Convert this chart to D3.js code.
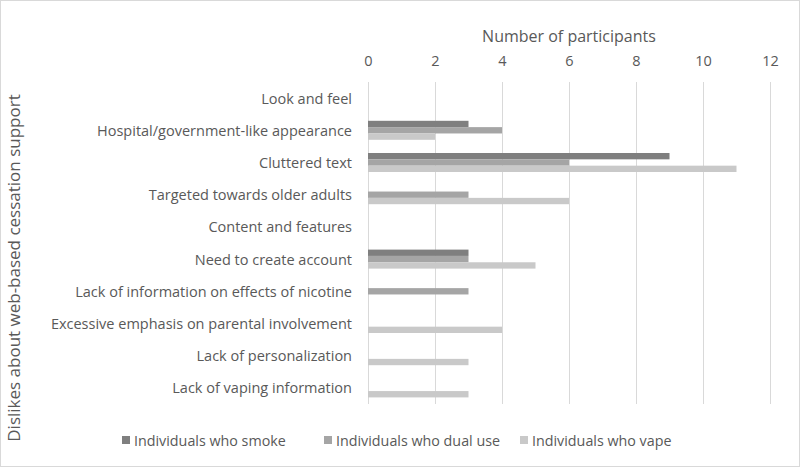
<!DOCTYPE html>
<html>
<head>
<meta charset="utf-8">
<script src="https://cdn.jsdelivr.net/npm/d3@7"></script>
<style>
  html, body { margin: 0; padding: 0; background: #fff; }
  #chart { width: 800px; height: 467px; }
  text { font-family: "Open Sans", "Noto Sans", sans-serif; fill: #595959; }
</style>
</head>
<body>
<div id="chart"></div>
<script>
const CATEGORIES = [
  'Look and feel',
  'Hospital/government-like appearance',
  'Cluttered text',
  'Targeted towards older adults',
  'Content and features',
  'Need to create account',
  'Lack of information on effects of nicotine',
  'Excessive emphasis on parental involvement',
  'Lack of personalization',
  'Lack of vaping information',
];
const SERIES = ['Individuals who smoke', 'Individuals who dual use', 'Individuals who vape'];
const SMOKE = [0, 3, 9, 0, 0, 3, 0, 0, 0, 0];
const DUAL = [0, 4, 6, 3, 0, 3, 3, 0, 0, 0];
const VAPE = [0, 2, 11, 6, 0, 5, 0, 4, 3, 3];
const X_TICKS = [0, 2, 4, 6, 8, 10, 12];
const SERIES_COLORS = ['#7f7f7f', '#a5a5a5', '#c9c9c9'];

const WIDTH = 800;
const HEIGHT = 467;
const PLOT = { left: 368, right: 770, top: 82, bottom: 404 };

const values = [SMOKE, DUAL, VAPE];
const rows = CATEGORIES.map((c, i) => ({
  category: c,
  bars: SERIES.map((s, j) => ({ series: s, idx: j, value: values[j][i] })),
}));

const svg = d3.select('#chart')
  .append('svg')
  .attr('width', WIDTH)
  .attr('height', HEIGHT)
  .attr('style', 'display:block;');

// chart border
svg.append('rect')
  .attr('x', 0.5).attr('y', 0.5)
  .attr('width', WIDTH - 1).attr('height', HEIGHT - 1)
  .attr('fill', '#fff')
  .attr('stroke', '#d9d9d9');

const x = d3.scaleLinear().domain([0, 12]).range([PLOT.left, PLOT.right]);
const y = d3.scaleBand()
  .domain(CATEGORIES)
  .range([PLOT.top, PLOT.bottom])
  .paddingInner(0.41)
  .paddingOuter(0.205);
const ySub = d3.scaleBand().domain(SERIES).range([0, y.bandwidth()]);

// grid lines
svg.append('g')
  .selectAll('line')
  .data(X_TICKS)
  .join('line')
  .attr('x1', (d) => Math.round(x(d)) + 0.5)
  .attr('x2', (d) => Math.round(x(d)) + 0.5)
  .attr('y1', PLOT.top)
  .attr('y2', PLOT.bottom)
  .attr('stroke', '#d9d9d9')
  .attr('stroke-width', 1);

// top axis labels
const xAxis = d3.axisTop(x).tickValues(X_TICKS).tickSize(0).tickPadding(0);
const xAxisG = svg.append('g')
  .attr('transform', 'translate(0,66)')
  .call(xAxis);
xAxisG.select('.domain').remove();
xAxisG.selectAll('text')
  .attr('font-size', '14.5px')
  .attr('fill', '#595959')
  .attr('font-family', '"Open Sans", sans-serif');

svg.append('text')
  .attr('x', (PLOT.left + PLOT.right) / 2)
  .attr('y', 36)
  .attr('text-anchor', 'middle')
  .attr('dominant-baseline', 'central')
  .attr('font-size', '16px')
  .text('Number of participants');

// category labels
svg.append('g')
  .selectAll('text')
  .data(CATEGORIES)
  .join('text')
  .attr('x', PLOT.left - 16)
  .attr('y', (d) => y(d) + y.bandwidth() / 2)
  .attr('text-anchor', 'end')
  .attr('dominant-baseline', 'central')
  .attr('font-size', '14.5px')
  .text((d) => d);

svg.append('text')
  .attr('transform', 'translate(13,268) rotate(-90)')
  .attr('text-anchor', 'middle')
  .attr('dominant-baseline', 'central')
  .attr('font-size', '17px')
  .text('Dislikes about web-based cessation support');

// bars
svg.append('g')
  .selectAll('g')
  .data(rows)
  .join('g')
  .attr('transform', (d) => `translate(0,${y(d.category)})`)
  .selectAll('rect')
  .data((d) => d.bars.filter((b) => b.value > 0))
  .join('rect')
  .attr('x', x(0))
  .attr('y', (d) => ySub(d.series))
  .attr('width', (d) => x(d.value) - x(0))
  .attr('height', ySub.bandwidth())
  .attr('fill', (d) => SERIES_COLORS[d.idx]);

// legend
const LEGEND_X = [122, 324, 520];
const legend = svg.append('g')
  .selectAll('g')
  .data(SERIES)
  .join('g')
  .attr('transform', (d, i) => `translate(${LEGEND_X[i]},440)`);
legend.append('rect')
  .attr('x', 0).attr('y', -4)
  .attr('width', 8).attr('height', 8)
  .attr('fill', (d, i) => SERIES_COLORS[i]);
legend.append('text')
  .attr('x', 12)
  .attr('y', 0)
  .attr('dominant-baseline', 'central')
  .attr('font-size', '14.3px')
  .text((d) => d);
</script>
</body>
</html>
